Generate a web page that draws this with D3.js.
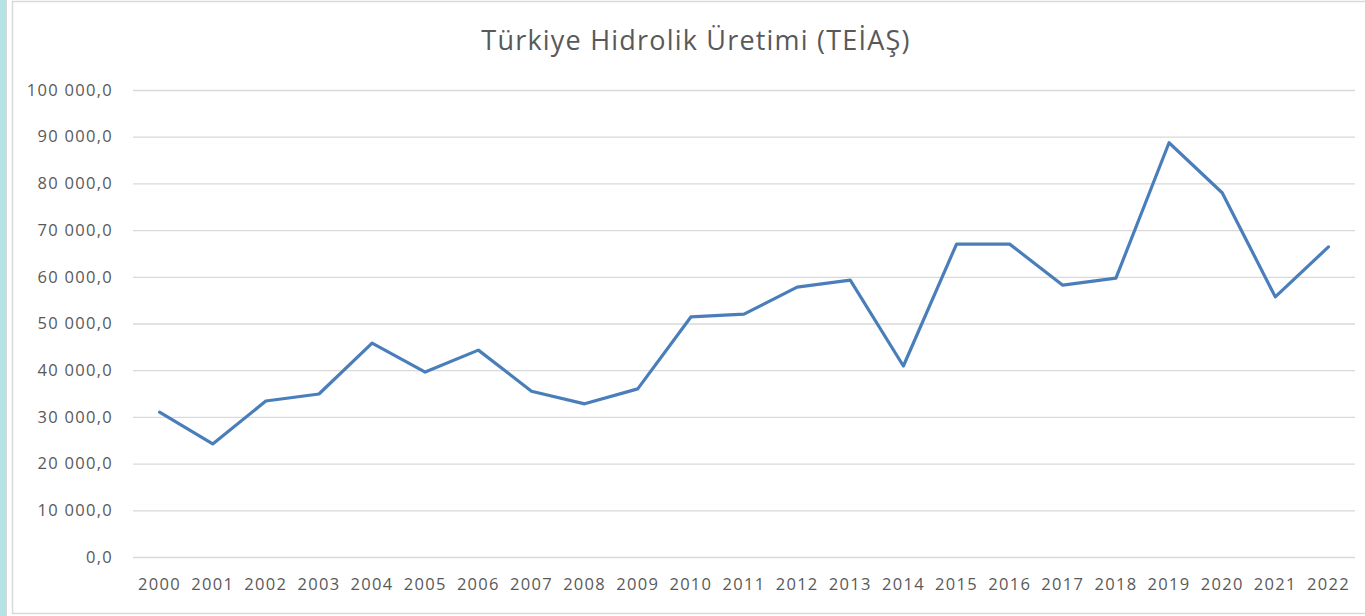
<!DOCTYPE html>
<html><head><meta charset="utf-8">
<script src="https://cdn.jsdelivr.net/npm/d3@7"></script>
<style>html,body{margin:0;padding:0;background:#fff;overflow:hidden}</style>
</head><body>
<svg id="c" width="1365" height="616"></svg>
<script>
const years = ["2000","2001","2002","2003","2004","2005","2006","2007","2008","2009","2010","2011","2012","2013","2014","2015","2016","2017","2018","2019","2020","2021","2022"];
const production = [31000,24200,33400,34900,45800,39600,44300,35500,32800,36000,51400,52000,57800,59300,40900,67000,67000,58200,59700,88700,78000,55700,66400];
const yTicks = [0,10000,20000,30000,40000,50000,60000,70000,80000,90000,100000];
const title = "Türkiye Hidrolik Üretimi (TEİAŞ)";

(function(){
const svg = d3.select("#c");
const font = "'Open Sans', Lato, sans-serif";

// frame
svg.append("rect").attr("x",0).attr("y",0).attr("width",5).attr("height",616).attr("fill","#b4e3e6");
svg.append("rect").attr("x",5).attr("y",0).attr("width",2).attr("height",616).attr("fill","#d6d6d6");
svg.append("rect").attr("x",12.5).attr("y",1.5).attr("width",1400).attr("height",612).attr("fill","none").attr("stroke","#d9d9d9").attr("stroke-width",1.5);

const mL = 133, mR = 1355, mT = 90, mB = 557;
const x = d3.scaleBand().domain(years).range([mL,mR]);
const y = d3.scaleLinear().domain([0,100000]).range([mB,mT]);

const fmt = v => {
  const s = d3.format(",.1f")(v);
  return s.replace(/,/g," ").replace(/\.(\d)$/,",$1");
};

const gy = svg.append("g").attr("transform",`translate(${mL},0)`)
  .call(d3.axisLeft(y).tickValues(yTicks).tickSize(-(mR-mL)).tickPadding(20).tickFormat(fmt));
gy.select(".domain").remove();
gy.selectAll(".tick line").attr("stroke","#d9d9d9").attr("stroke-width",1.3);
gy.selectAll(".tick text").attr("fill","#595959").style("font-family",font).style("font-size","16.5px").style("letter-spacing","1.3px");

const gx = svg.append("g").attr("transform",`translate(0,${mB})`)
  .call(d3.axisBottom(x).tickSize(0).tickPadding(21));
gx.select(".domain").remove();
gx.selectAll(".tick text").attr("fill","#595959").style("font-family",font).style("font-size","16.5px").style("letter-spacing","1.3px");

const line = d3.line().x((d,i)=>x(years[i])+x.bandwidth()/2).y(d=>y(d));
svg.append("path").datum(production).attr("d",line).attr("fill","none")
  .attr("stroke","#4a7ebb").attr("stroke-width",3.2).attr("stroke-linejoin","round").attr("stroke-linecap","round");

svg.append("text").attr("x",696).attr("y",50).attr("text-anchor","middle")
  .attr("fill","#595959").style("font-family",font).style("font-size","27px").style("letter-spacing","1.2px").text(title);
})();
</script>
</body></html>
